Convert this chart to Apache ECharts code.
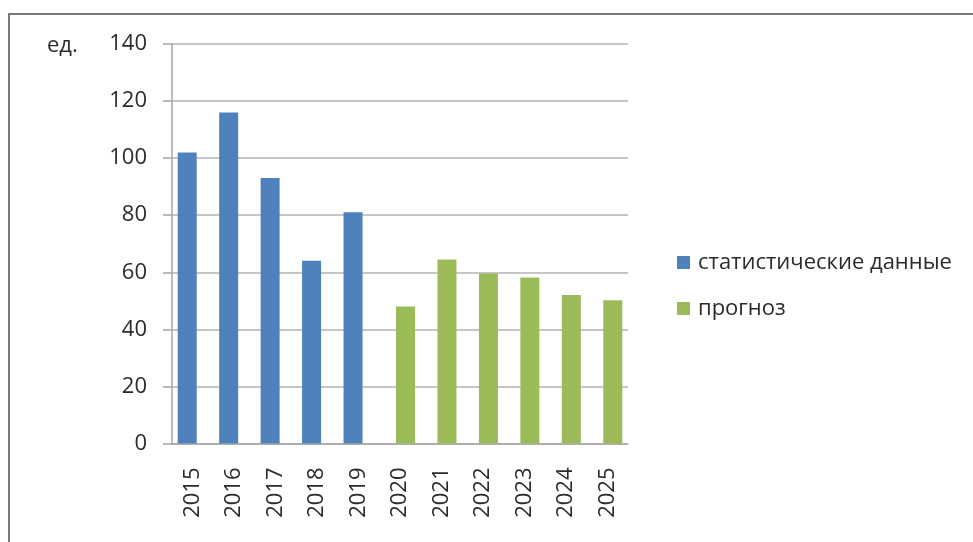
<!DOCTYPE html>
<html>
<head>
<meta charset="utf-8">
<script src="https://cdn.jsdelivr.net/npm/echarts@6/dist/echarts.min.js"></script>
<style>html,body{margin:0;padding:0;background:#fff;}#c{width:973px;height:542px;}</style>
</head>
<body>
<div id="c"></div>
<script>
const categories = ['2015','2016','2017','2018','2019','2020','2021','2022','2023','2024','2025'];
const statValues = [102, 116, 93, 64, 81, null, null, null, null, null, null];
const forecastValues = [null, null, null, null, null, 48, 64.5, 59.6, 58.2, 52, 50.2];
const seriesNames = ['статистические данные', 'прогноз'];
const unitLabel = 'ед.';

const FONT = '"Open Sans", "DejaVu Sans", sans-serif';
const chart = echarts.init(document.getElementById('c'));
chart.setOption({
  animation: false,
  backgroundColor: '#ffffff',
  textStyle: { fontFamily: FONT },
  graphic: [
    { type: 'rect', shape: { x: 9, y: 14, width: 1100, height: 700 },
      style: { fill: 'none', stroke: '#7a7a7a', lineWidth: 2 }, silent: true },
    { type: 'text', left: 47, top: 35,
      style: { text: unitLabel, fontSize: 22, fill: '#2b2b2b', fontFamily: FONT } }
  ],
  grid: { left: 172, right: 345, top: 44, bottom: 98.5, containLabel: false },
  legend: {
    orient: 'vertical', left: 672, top: 246,
    itemWidth: 13, itemHeight: 13, itemGap: 23,
    icon: 'rect',
    textStyle: { fontSize: 22, color: '#2b2b2b', fontFamily: FONT, lineHeight: 23, padding: [0,0,0,3] },
    data: seriesNames
  },
  xAxis: {
    type: 'category', data: categories,
    axisLine: { show: true, lineStyle: { color: '#a6a6a6', width: 1.5 } },
    axisTick: { show: false },
    axisLabel: { rotate: 90, fontSize: 22, color: '#2b2b2b', margin: 24, interval: 0, fontFamily: FONT }
  },
  yAxis: {
    type: 'value', min: 0, max: 140, interval: 20,
    axisLine: { show: true, lineStyle: { color: '#a6a6a6', width: 1.5 } },
    axisTick: { show: true, length: 9, lineStyle: { color: '#a6a6a6', width: 1.5 } },
    axisLabel: { fontSize: 22, color: '#2b2b2b', margin: 25, fontFamily: FONT },
    splitLine: { show: true, lineStyle: { color: '#b3b3b3', width: 1.5 } }
  },
  series: [
    { name: seriesNames[0], type: 'bar', data: statValues, barWidth: 19, barGap: '-42%',
      itemStyle: { color: '#4F81BD' } },
    { name: seriesNames[1], type: 'bar', data: forecastValues, barWidth: 19, barGap: '-42%',
      itemStyle: { color: '#9BBB59' } }
  ]
});
</script>
</body>
</html>
